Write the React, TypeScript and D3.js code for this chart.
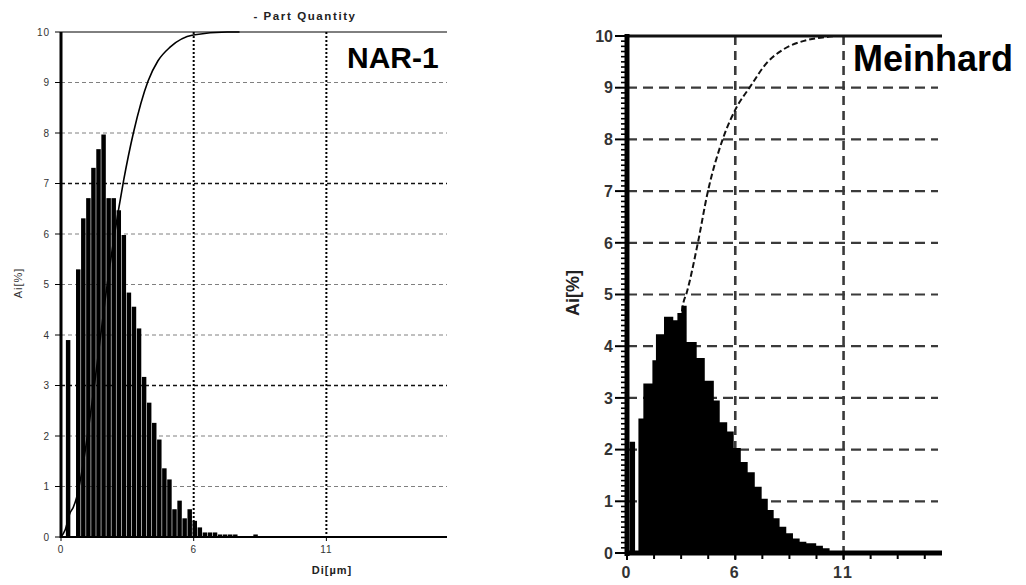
import React from "react";
import * as d3 from "d3";

// ---------- Left panel (NAR-1) ----------
const leftBinWidth = 0.21;
const leftBinOffset = -0.02;
const leftBarValues = [
  0, 3.9, 0, 5.3, 6.31, 6.71, 7.31, 7.68, 7.97, 6.71, 6.71, 6.47, 5.98, 4.84, 4.56,
  4.13, 3.17, 2.66, 2.26, 1.93, 1.36, 1.14, 0.55, 0.72, 0.37, 0.55, 0.32, 0.19,
  0.09, 0.09, 0.09, 0.05, 0.05, 0.05, 0.05, 0, 0, 0, 0.05,
];
const leftCumX = [0, 0.17, 0.37, 0.51, 0.65, 0.79, 1.41, 1.83, 2.38, 2.6, 3.0, 3.61, 4.02, 4.52, 5.48, 6.89, 7.4];
const leftCumY = [0, 0.14, 0.47, 0.59, 0.79, 1.1, 3.1, 4.7, 6.47, 7.07, 8.0, 9.03, 9.43, 9.7, 9.94, 10, 10];

// ---------- Right panel (Meinhard) ----------
const rightStart = [
  0.13, 0.41, 0.58, 0.83, 1.29, 1.47, 1.88, 2.35, 2.56, 2.77, 3.03, 3.54, 3.95, 4.41,
  4.71, 5.09, 5.42, 5.78, 6.13, 6.49, 6.84, 7.15, 7.45, 7.75, 8.09, 8.43, 8.77, 9.11,
  9.61, 9.95, 10.29,
];
const rightValue = [
  2.15, 0, 2.6, 3.28, 3.73, 4.23, 4.57, 4.5, 4.64, 4.78, 4.08, 3.77, 3.33, 2.95, 2.53,
  2.35, 2.03, 1.76, 1.56, 1.28, 1.05, 0.83, 0.67, 0.51, 0.38, 0.28, 0.22, 0.19, 0.14,
  0.09, 0,
];
const rightCumX = [0.7, 1.0, 1.5, 2.0, 2.5, 2.84, 3.03, 3.6, 4.1, 4.85, 5.58, 6.24, 7.1, 7.9, 9.12, 10.1, 10.6];
const rightCumY = [0.4, 0.8, 1.6, 2.6, 3.6, 4.8, 5.03, 6.0, 6.98, 7.99, 8.63, 9.01, 9.48, 9.73, 9.92, 9.98, 10];

// ---------- shared ----------
const yTickValues = [0, 1, 2, 3, 4, 5, 6, 7, 8, 9, 10];
const xTickValues = [0, 5.5, 11];
const xTickLabels = ["0", "6", "11"];
const gridYValues = [1, 2, 3, 4, 5, 6, 7, 8, 9];

const FONT = "'Liberation Sans', Arial, sans-serif";

function LeftPanel() {
  const x = d3.scaleLinear().domain([0, 16]).range([61, 447]);
  const y = d3.scaleLinear().domain([0, 10]).range([537, 32]);
  const bw = x(leftBinWidth) - x(0);
  const line = d3
    .line<number>()
    .x((_, i) => x(leftCumX[i]))
    .y((d) => y(d))
    .curve(d3.curveMonotoneX);
  return (
    <g>
      {gridYValues.map((v) => (
        <line
          key={"g" + v}
          x1={x(0)}
          x2={x(16)}
          y1={y(v)}
          y2={y(v)}
          stroke={v === 3 || v === 7 ? "#111" : "#808080"}
          strokeWidth={v === 3 || v === 7 ? 1.6 : 1}
          strokeDasharray="4,3"
        />
      ))}
      {[5.5, 11].map((v) => (
        <line key={"vg" + v} x1={x(v)} x2={x(v)} y1={y(10)} y2={y(0)} stroke="#000" strokeWidth={2} strokeDasharray="2,2" />
      ))}
      {leftBarValues.map((v, i) =>
        v > 0 ? (
          <rect
            key={"b" + i}
            x={x(i * leftBinWidth + leftBinOffset) + 0.3}
            width={bw - 0.6}
            y={y(v)}
            height={y(0) - y(v)}
            fill="#000"
          />
        ) : null
      )}
      <path d={line(leftCumY) || ""} fill="none" stroke="#000" strokeWidth={1.6} />
      <line x1={x(0)} x2={x(16)} y1={y(10)} y2={y(10)} stroke="#000" strokeWidth={1} />
      <line x1={x(0)} x2={x(16)} y1={y(0)} y2={y(0)} stroke="#000" strokeWidth={2} />
      <line x1={x(0)} x2={x(0)} y1={y(10)} y2={y(0) + 1} stroke="#000" strokeWidth={3} />
      {yTickValues.map((v) => (
        <g key={"yt" + v}>
          <line x1={x(0) - 6} x2={x(0)} y1={y(v)} y2={y(v)} stroke="#000" strokeWidth={1} />
          <text x={50} y={y(v)} dy="0.35em" textAnchor="end" fontSize={10} letterSpacing={1} fill="#333" fontFamily={FONT}>
            {v}
          </text>
        </g>
      ))}
      {xTickValues.map((v, i) => (
        <g key={"xt" + v}>
          <line x1={x(v)} x2={x(v)} y1={y(0)} y2={y(0) + 4} stroke="#000" strokeWidth={1} />
          <text x={x(v)} y={553} textAnchor="middle" fontSize={10} letterSpacing={1} fill="#333" fontFamily={FONT}>
            {xTickLabels[i]}
          </text>
        </g>
      ))}
      <text x={332} y={574} textAnchor="middle" fontSize={11} fontWeight="bold" letterSpacing={1} fill="#222" fontFamily={FONT}>
        Di[µm]
      </text>
      <text
        transform="translate(22,283) rotate(-90)"
        textAnchor="middle"
        fontSize={11}
        letterSpacing={1}
        fill="#333"
        fontFamily={FONT}
      >
        Ai[%]
      </text>
      <text x={305} y={20} textAnchor="middle" fontSize={11.5} fontWeight="bold" letterSpacing={1.6} fill="#222" fontFamily={FONT}>
        - Part Quantity
      </text>
      <text x={347} y={68} fontSize={30} fontWeight="bold" fill="#000" fontFamily={FONT}>
        NAR-1
      </text>
    </g>
  );
}

function RightPanel() {
  const x = d3.scaleLinear().domain([0, 16]).range([627, 942]);
  const y = d3.scaleLinear().domain([0, 10]).range([553, 36]);
  const area = d3
    .area<number>()
    .x((_, i) => x(rightStart[i]))
    .y0(y(0))
    .y1((d) => y(d))
    .curve(d3.curveStepAfter);
  const line = d3
    .line<number>()
    .x((_, i) => x(rightCumX[i]))
    .y((d) => y(d))
    .curve(d3.curveMonotoneX);
  const minorY = d3.range(0, 100).map((k) => k / 10).filter((v) => Math.abs(v - Math.round(v)) > 0.01);
  const minorX = d3.range(1, 12).map((k) => k * 1.375);
  return (
    <g>
      {gridYValues.map((v) => (
        <line key={"g" + v} x1={x(0)} x2={938} y1={y(v)} y2={y(v)} stroke="#3a3a3a" strokeWidth={2.2} strokeDasharray="10,6" />
      ))}
      {[5.5, 11].map((v) => (
        <line key={"vg" + v} x1={x(v)} x2={x(v)} y1={y(10)} y2={y(0)} stroke="#3a3a3a" strokeWidth={2.6} strokeDasharray="9,6" />
      ))}
      <path d={line(rightCumY) || ""} fill="none" stroke="#111" strokeWidth={2} strokeDasharray="6,3" />
      <path d={area(rightValue) || ""} fill="#000" />
      <line x1={x(0)} x2={x(16)} y1={y(10)} y2={y(10)} stroke="#111" strokeWidth={3} />
      <line x1={x(0)} x2={x(16)} y1={y(0)} y2={y(0)} stroke="#000" strokeWidth={5} />
      <line x1={x(0)} x2={x(0)} y1={y(10) - 2} y2={y(0) + 3} stroke="#000" strokeWidth={5} />
      {minorY.map((v) => (
        <line key={"my" + v} x1={x(0) - 6} x2={x(0)} y1={y(v)} y2={y(v)} stroke="#000" strokeWidth={1.6} />
      ))}
      {minorX.map((v) => (
        <line key={"mx" + v} x1={x(v)} x2={x(v)} y1={y(0)} y2={y(0) + 6} stroke="#000" strokeWidth={2} />
      ))}
      {yTickValues.map((v) => (
        <g key={"yt" + v}>
          <line x1={x(0) - 12} x2={x(0)} y1={y(v)} y2={y(v)} stroke="#000" strokeWidth={2} />
          <text x={613} y={y(v)} dy="0.36em" textAnchor="end" fontSize={16} fontWeight="bold" fill="#333" fontFamily={FONT}>
            {v}
          </text>
        </g>
      ))}
      {xTickValues.map((v, i) => (
        <g key={"xt" + v}>
          <line x1={x(v)} x2={x(v)} y1={y(0)} y2={y(0) + 7} stroke="#000" strokeWidth={2} />
          <text x={x(v)} y={578} textAnchor="middle" fontSize={16} fontWeight="bold" letterSpacing={2} fill="#333" fontFamily={FONT}>
            {xTickLabels[i]}
          </text>
        </g>
      ))}
      <text
        transform="translate(579,293) rotate(-90)"
        textAnchor="middle"
        fontSize={18}
        fontWeight="bold"
        fill="#222"
        fontFamily={FONT}
      >
        Ai[%]
      </text>
      <text x={853} y={71} fontSize={36} fontWeight="bold" fill="#000" fontFamily={FONT}>
        Meinhard
      </text>
    </g>
  );
}

export default function App() {
  return (
    <svg
      width={1026}
      height={585}
      viewBox="0 0 1026 585"
      style={{ position: "absolute", left: 0, top: 0, background: "#fff" }}
    >
      <rect width={1026} height={585} fill="#fff" />
      <LeftPanel />
      <RightPanel />
    </svg>
  );
}
